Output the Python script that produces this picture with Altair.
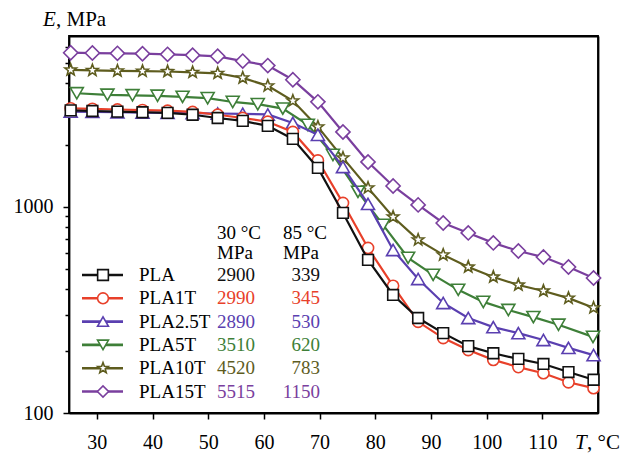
import altair as alt
import pandas as pd

FONT = "Liberation Serif"

# ---------------- data ----------------
SERIES = ["PLA", "PLA1T", "PLA2.5T", "PLA5T", "PLA10T", "PLA15T"]

T_MAIN = [25.3, 29.2, 33.7, 38.2, 42.7, 47.2, 51.7, 56.2, 60.7, 65.2, 69.7,
          74.2, 78.7, 83.2, 87.7, 92.2, 96.7, 101.2, 105.7, 110.2, 114.7, 119.2]
T_5T = [26.4, 31.9, 36.4, 40.9, 45.4, 49.9, 54.4, 58.9, 63.4, 67.9, 72.4,
        76.9, 81.4, 85.9, 90.4, 94.9, 99.4, 103.9, 108.4, 112.9, 119.1]

E_PLA = [2940, 2920, 2900, 2880, 2860, 2800, 2700, 2615, 2473, 2138, 1546,
         935, 553, 374, 289, 244, 211, 195, 183, 173, 158, 145]
E_PLA1T = [3010, 2990, 2970, 2950, 2930, 2890, 2800, 2700, 2590, 2310, 1680,
           1045, 632, 414, 277, 231, 202, 181, 167, 156, 141, 132]
E_PLA2_5T = [2900, 2890, 2880, 2870, 2860, 2850, 2840, 2830, 2810, 2556, 2238,
             1563, 1034, 618, 447, 342, 289, 261, 244, 226, 207, 191]
E_PLA5T = [3560, 3500, 3480, 3460, 3420, 3370, 3230, 3150, 3000, 2500, 1787,
           1183, 818, 566, 468, 396, 346, 316, 292, 268, 234]
E_PLA10T = [4620, 4600, 4570, 4560, 4540, 4500, 4450, 4227, 3866, 3273, 2445,
            1729, 1237, 894, 692, 585, 511, 457, 418, 391, 361, 324]
E_PLA15T = [5600, 5580, 5560, 5540, 5500, 5450, 5380, 5100, 4850, 4140, 3234,
            2311, 1653, 1264, 1023, 836, 748, 669, 611, 571, 511, 452]

E_30C = ["2900", "2990", "2890", "3510", "4520", "5515"]
E_85C = ["339", "345", "530", "620", "783", "1150"]

X_TICKS = [30, 40, 50, 60, 70, 80, 90, 100, 110]
Y_TICKS = [100, 200, 300, 400, 500, 600, 700, 800, 900,
           1000, 2000, 3000, 4000, 5000, 6000]
X_DOMAIN = [25, 120]
Y_DOMAIN = [100, 6750]

# ---------------- styling ----------------
COLORS = ["#111111", "#e8402a", "#5a3fb0", "#3e7f38", "#5e5c1e", "#7a3f9e"]
STAR = ("M0,-1 L0.247,-0.34 L0.951,-0.309 L0.399,0.13 L0.588,0.809 L0,0.42 "
        "L-0.588,0.809 L-0.399,0.13 L-0.951,-0.309 L-0.247,-0.34 Z")
SHAPES = ["square", "circle", "triangle-up", "triangle-down", STAR, "diamond"]
SIZES = [115, 125, 170, 170, 150, 200]
W, H = 529, 377

curves = {
    "PLA": (T_MAIN, E_PLA),
    "PLA1T": (T_MAIN, E_PLA1T),
    "PLA2.5T": (T_MAIN, E_PLA2_5T),
    "PLA5T": (T_5T, E_PLA5T),
    "PLA10T": (T_MAIN, E_PLA10T),
    "PLA15T": (T_MAIN, E_PLA15T),
}

x_scale = alt.Scale(domain=X_DOMAIN, nice=False, zero=False)
y_scale = alt.Scale(type="log", domain=Y_DOMAIN, nice=False)

x_main = alt.X(
    "T:Q", scale=x_scale,
    axis=alt.Axis(values=X_TICKS, grid=False, domain=True, domainColor="black",
                  domainWidth=1.8, title=None, orient="bottom",
                  tickColor="black", tickWidth=1.5, tickSize=6,
                  labelFont=FONT, labelFontSize=20, labelColor="black",
                  labelPadding=13, labelFlush=False),
)
y_main = alt.Y(
    "E:Q", scale=y_scale,
    axis=alt.Axis(values=Y_TICKS, grid=False, domain=True, domainColor="black",
                  domainWidth=1.8, title=None, orient="left",
                  format="d",
                  labelExpr="(datum.value == 100 || datum.value == 1000) ? datum.label : ''",
                  tickColor="black", tickWidth=1.5,
                  tickSize={"condition": {"test": "datum.value == 100 || datum.value == 1000",
                                          "value": 6}, "value": 4},
                  labelFont=FONT, labelFontSize=20, labelColor="black",
                  labelPadding=10),
)
x_plain = alt.X("T:Q", scale=x_scale, axis=None)
y_plain = alt.Y("E:Q", scale=y_scale, axis=None)
# top / right axes: only their domain line, to close the frame
x_top = alt.X("T:Q", scale=x_scale,
              axis=alt.Axis(orient="top", domain=True, domainColor="black",
                            domainWidth=1.8, ticks=False, labels=False,
                            grid=False, title=None))
y_right = alt.Y("E:Q", scale=y_scale,
                axis=alt.Axis(orient="right", domain=True, domainColor="black",
                              domainWidth=1.8, ticks=False, labels=False,
                              grid=False, title=None))

layers = []
draw_order = ["PLA15T", "PLA10T", "PLA5T", "PLA2.5T", "PLA1T", "PLA"]
for n, s in enumerate(draw_order):
    i = SERIES.index(s)
    t, e = curves[s]
    df = pd.DataFrame({"T": t, "E": e, "series": s})
    if n == 0:
        line = alt.Chart(df).mark_line(color=COLORS[i], strokeWidth=2.2).encode(
            x=x_main, y=y_main)
        pts = alt.Chart(df).mark_point(
            shape=SHAPES[i], size=SIZES[i], filled=True, fill="white", fillOpacity=1,
            stroke=COLORS[i], strokeWidth=1.6, opacity=1
        ).encode(x=x_top, y=y_right)
    else:
        line = alt.Chart(df).mark_line(color=COLORS[i], strokeWidth=2.2).encode(
            x=x_plain, y=y_plain)
        pts = alt.Chart(df).mark_point(
            shape=SHAPES[i], size=SIZES[i], filled=True, fill="white", fillOpacity=1,
            stroke=COLORS[i], strokeWidth=1.6, opacity=1
        ).encode(x=x_plain, y=y_plain)
    layers += [line, pts]

# ---------------- legend / value table ----------------
leg = pd.DataFrame({
    "series": SERIES,
    "row": list(range(len(SERIES))),
    "v30": E_30C,
    "v85": E_85C,
})
leg_base = alt.Chart(leg).transform_calculate(ypix="239 + 23.3 * datum.row")
ypix = alt.Y("ypix:Q", scale=None, axis=None)
col_scale = alt.Scale(domain=SERIES, range=COLORS)

leg_line = leg_base.mark_rule(strokeWidth=2.6).encode(
    x=alt.value(13), x2=alt.value(54), y=ypix,
    color=alt.Color("series:N", scale=col_scale, legend=None))
leg_pts = leg_base.mark_point(filled=True, fill="white", fillOpacity=1,
                              strokeWidth=1.6, opacity=1).encode(
    x=alt.value(34), y=ypix,
    stroke=alt.Stroke("series:N", scale=col_scale, legend=None),
    shape=alt.Shape("series:N", scale=alt.Scale(domain=SERIES, range=SHAPES), legend=None),
    size=alt.Size("series:N", scale=alt.Scale(domain=SERIES, range=SIZES), legend=None))
leg_name = leg_base.mark_text(align="left", baseline="middle", font=FONT,
                              fontSize=19, color="black").encode(
    x=alt.value(70), y=ypix, text="series:N")
leg_v30 = leg_base.mark_text(align="left", baseline="middle", font=FONT,
                             fontSize=19).encode(
    x=alt.value(148), y=ypix, text="v30:N",
    color=alt.Color("series:N", scale=col_scale, legend=None))
leg_v85 = leg_base.mark_text(align="right", baseline="middle", font=FONT,
                             fontSize=19).encode(
    x=alt.value(251), y=ypix, text="v85:N",
    color=alt.Color("series:N", scale=col_scale, legend=None))

HEAD1 = ["30 °C", "85 °C"]
HEAD2 = ["MPa", "MPa"]
head = pd.DataFrame({"h1": HEAD1, "h2": HEAD2, "col": [0, 1]})
head_base = alt.Chart(head).transform_calculate(xpix="148 + 66 * datum.col")
head1 = head_base.mark_text(align="left", baseline="middle", font=FONT,
                            fontSize=19, color="black").encode(
    x=alt.X("xpix:Q", scale=None, axis=None), y=alt.value(197), text="h1:N")
head2 = head_base.mark_text(align="left", baseline="middle", font=FONT,
                            fontSize=19, color="black").encode(
    x=alt.X("xpix:Q", scale=None, axis=None), y=alt.value(217), text="h2:N")

layers += [leg_line, leg_pts, leg_name, leg_v30, leg_v85, head1, head2]

# ---------------- axis titles ----------------
def label(txt, x, y, style="normal"):
    return alt.Chart(pd.DataFrame({"t": [txt]})).mark_text(
        align="left", baseline="middle", font=FONT, fontSize=21,
        fontStyle=style, color="black").encode(
        x=alt.value(x), y=alt.value(y), text="t:N")

layers += [
    label("E", -26, -16, "italic"),
    label(", MPa", -13, -16),
    label("T", 506, 407, "italic"),
    label(", °C", 518, 407),
]

chart = alt.layer(*layers).resolve_axis(
    x="independent", y="independent"
).properties(
    width=W, height=H,
    padding={"left": 61, "top": 28, "right": 27, "bottom": 40},
    autosize="none",
    background="white",
).configure_view(stroke="black", strokeWidth=1.8)

chart.save("out.html", embed_options={"renderer": "svg", "actions": False})
